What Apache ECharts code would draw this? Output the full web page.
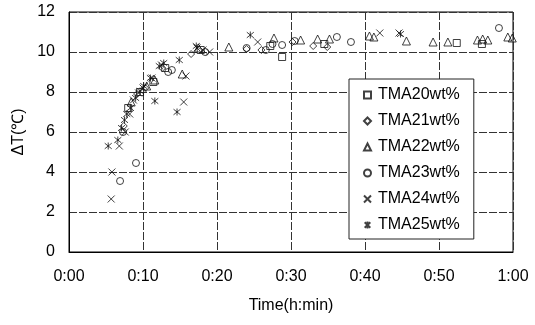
<!DOCTYPE html>
<html>
<head>
<meta charset="utf-8">
<script src="https://cdn.jsdelivr.net/npm/echarts@6/dist/echarts.min.js"></script>
<style>
html, body { margin: 0; padding: 0; background: #fff; }
#chart { width: 535px; height: 325px; }
</style>
</head>
<body>
<div id="chart"></div>
<script>
// time in minutes, ΔT in ℃
var seriesNames = ['TMA20wt%', 'TMA21wt%', 'TMA22wt%', 'TMA23wt%', 'TMA24wt%', 'TMA25wt%'];
var xTicks = [0, 10, 20, 30, 40, 50, 60];

var tma20 = [[8.0, 7.2], [9.6, 8.0], [11.4, 8.5], [13.0, 9.2], [17.8, 10.1], [27.2, 10.3], [28.8, 9.75], [34.5, 10.4], [52.4, 10.45], [55.8, 10.4]];
var tma21 = [[7.4, 6.3], [9.2, 7.9], [10.3, 8.2], [12.6, 9.2], [16.5, 9.9], [24.0, 10.15], [26.0, 10.1], [30.2, 10.5], [33.0, 10.3], [34.9, 10.25]];
var tma22 = [[8.4, 7.5], [10.5, 8.3], [11.6, 8.6], [15.3, 8.9], [17.5, 10.2], [21.6, 10.25], [27.7, 10.7], [31.3, 10.6], [33.6, 10.65], [35.2, 10.65], [40.6, 10.8], [41.2, 10.75], [45.6, 10.55], [49.2, 10.5], [51.2, 10.5], [55.2, 10.6], [55.9, 10.65], [56.6, 10.6], [59.3, 10.75], [59.9, 10.7]];
var tma23 = [[6.9, 3.55], [9.05, 4.45], [7.3, 6.0], [13.4, 9.0], [13.9, 9.1], [18.4, 10.0], [24.0, 10.2], [26.6, 10.1], [27.5, 10.4], [28.8, 10.35], [30.5, 10.55], [36.2, 10.75], [38.1, 10.5], [58.1, 11.2]];
var tma24 = [[5.7, 2.65], [5.8, 4.0], [6.8, 5.3], [7.6, 6.0], [8.2, 6.9], [8.7, 7.6], [9.4, 7.95], [10.0, 8.2], [11.2, 8.7], [12.5, 9.35], [15.5, 7.5], [15.8, 8.8], [17.3, 10.2], [18.1, 10.1], [19.0, 10.0], [25.5, 10.5], [42.0, 10.95], [44.6, 10.95]];
var tma25 = [[5.3, 5.3], [6.6, 5.6], [7.1, 6.2], [7.5, 6.6], [7.8, 6.9], [8.3, 7.2], [9.0, 7.7], [9.6, 8.05], [10.1, 8.3], [11.0, 8.7], [11.6, 7.55], [12.2, 9.3], [12.8, 9.45], [14.6, 7.0], [14.9, 9.6], [17.2, 10.3], [24.5, 10.85], [44.8, 10.9]];

var allData = [tma20, tma21, tma22, tma23, tma24, tma25];
var symbols = [
    'rect',
    'diamond',
    'triangle',
    'circle',
    'path://M0,0L10,10M10,0L0,10',
    'path://M1,1L9,9M9,1L1,9M5,0L5,10'
];

var fontFam = '"Liberation Sans", Arial, sans-serif';

var series = [];
for (var i = 0; i < seriesNames.length; i++) {
    series.push({
        name: seriesNames[i],
        type: 'scatter',
        symbol: symbols[i],
        symbolSize: i == 2 ? 8 : 7,
        itemStyle: {
            color: 'rgba(255,255,255,0)',
            borderColor: '#111',
            borderWidth: 1
        },
        data: allData[i]
    });
}

var myChart = echarts.init(document.getElementById('chart'));
var options = {
    backgroundColor: '#fff',
    animation: false,
    textStyle: {fontFamily: fontFam, color: '#000'},
    grid: {
        left: 69, right: 22, top: 12, bottom: 73,
        show: true, borderColor: '#000', borderWidth: 1
    },
    legend: {
        orient: 'vertical',
        left: 349, top: 79,
        padding: [8, 14, 6, 14],
        itemGap: 10,
        itemWidth: 7, itemHeight: 7,
        backgroundColor: '#fff',
        borderColor: '#222',
        borderWidth: 1,
        borderRadius: 0,
        textStyle: {fontSize: 16, color: '#000', fontFamily: fontFam, padding: [0, 0, 0, 2]},
        data: seriesNames
    },
    xAxis: {
        type: 'value',
        min: 0, max: 60, interval: 10,
        name: 'Time(h:min)',
        nameLocation: 'middle',
        nameGap: 46,
        nameTextStyle: {fontSize: 16, color: '#000'},
        axisLine: {lineStyle: {color: '#000', width: 1}},
        axisTick: {show: false},
        axisLabel: {
            fontSize: 16, color: '#000', margin: 17,
            formatter: function (v) {
                var h = Math.floor(v / 60), m = v % 60;
                return h + ':' + (m < 10 ? '0' : '') + m;
            }
        },
        splitLine: {show: true, lineStyle: {color: '#333', width: 1, type: [8, 2]}}
    },
    yAxis: {
        type: 'value',
        min: 0, max: 12, interval: 2,
        name: 'ΔT(℃)',
        nameLocation: 'middle',
        nameGap: 37,
        nameTextStyle: {fontSize: 16, color: '#000'},
        axisLine: {show: true, lineStyle: {color: '#000', width: 1}},
        axisTick: {show: false},
        axisLabel: {fontSize: 16, color: '#000', margin: 14},
        splitLine: {show: true, lineStyle: {color: '#333', width: 1, type: [8, 2]}}
    },
    series: series
};

myChart.setOption(options);
</script>
</body>
</html>
